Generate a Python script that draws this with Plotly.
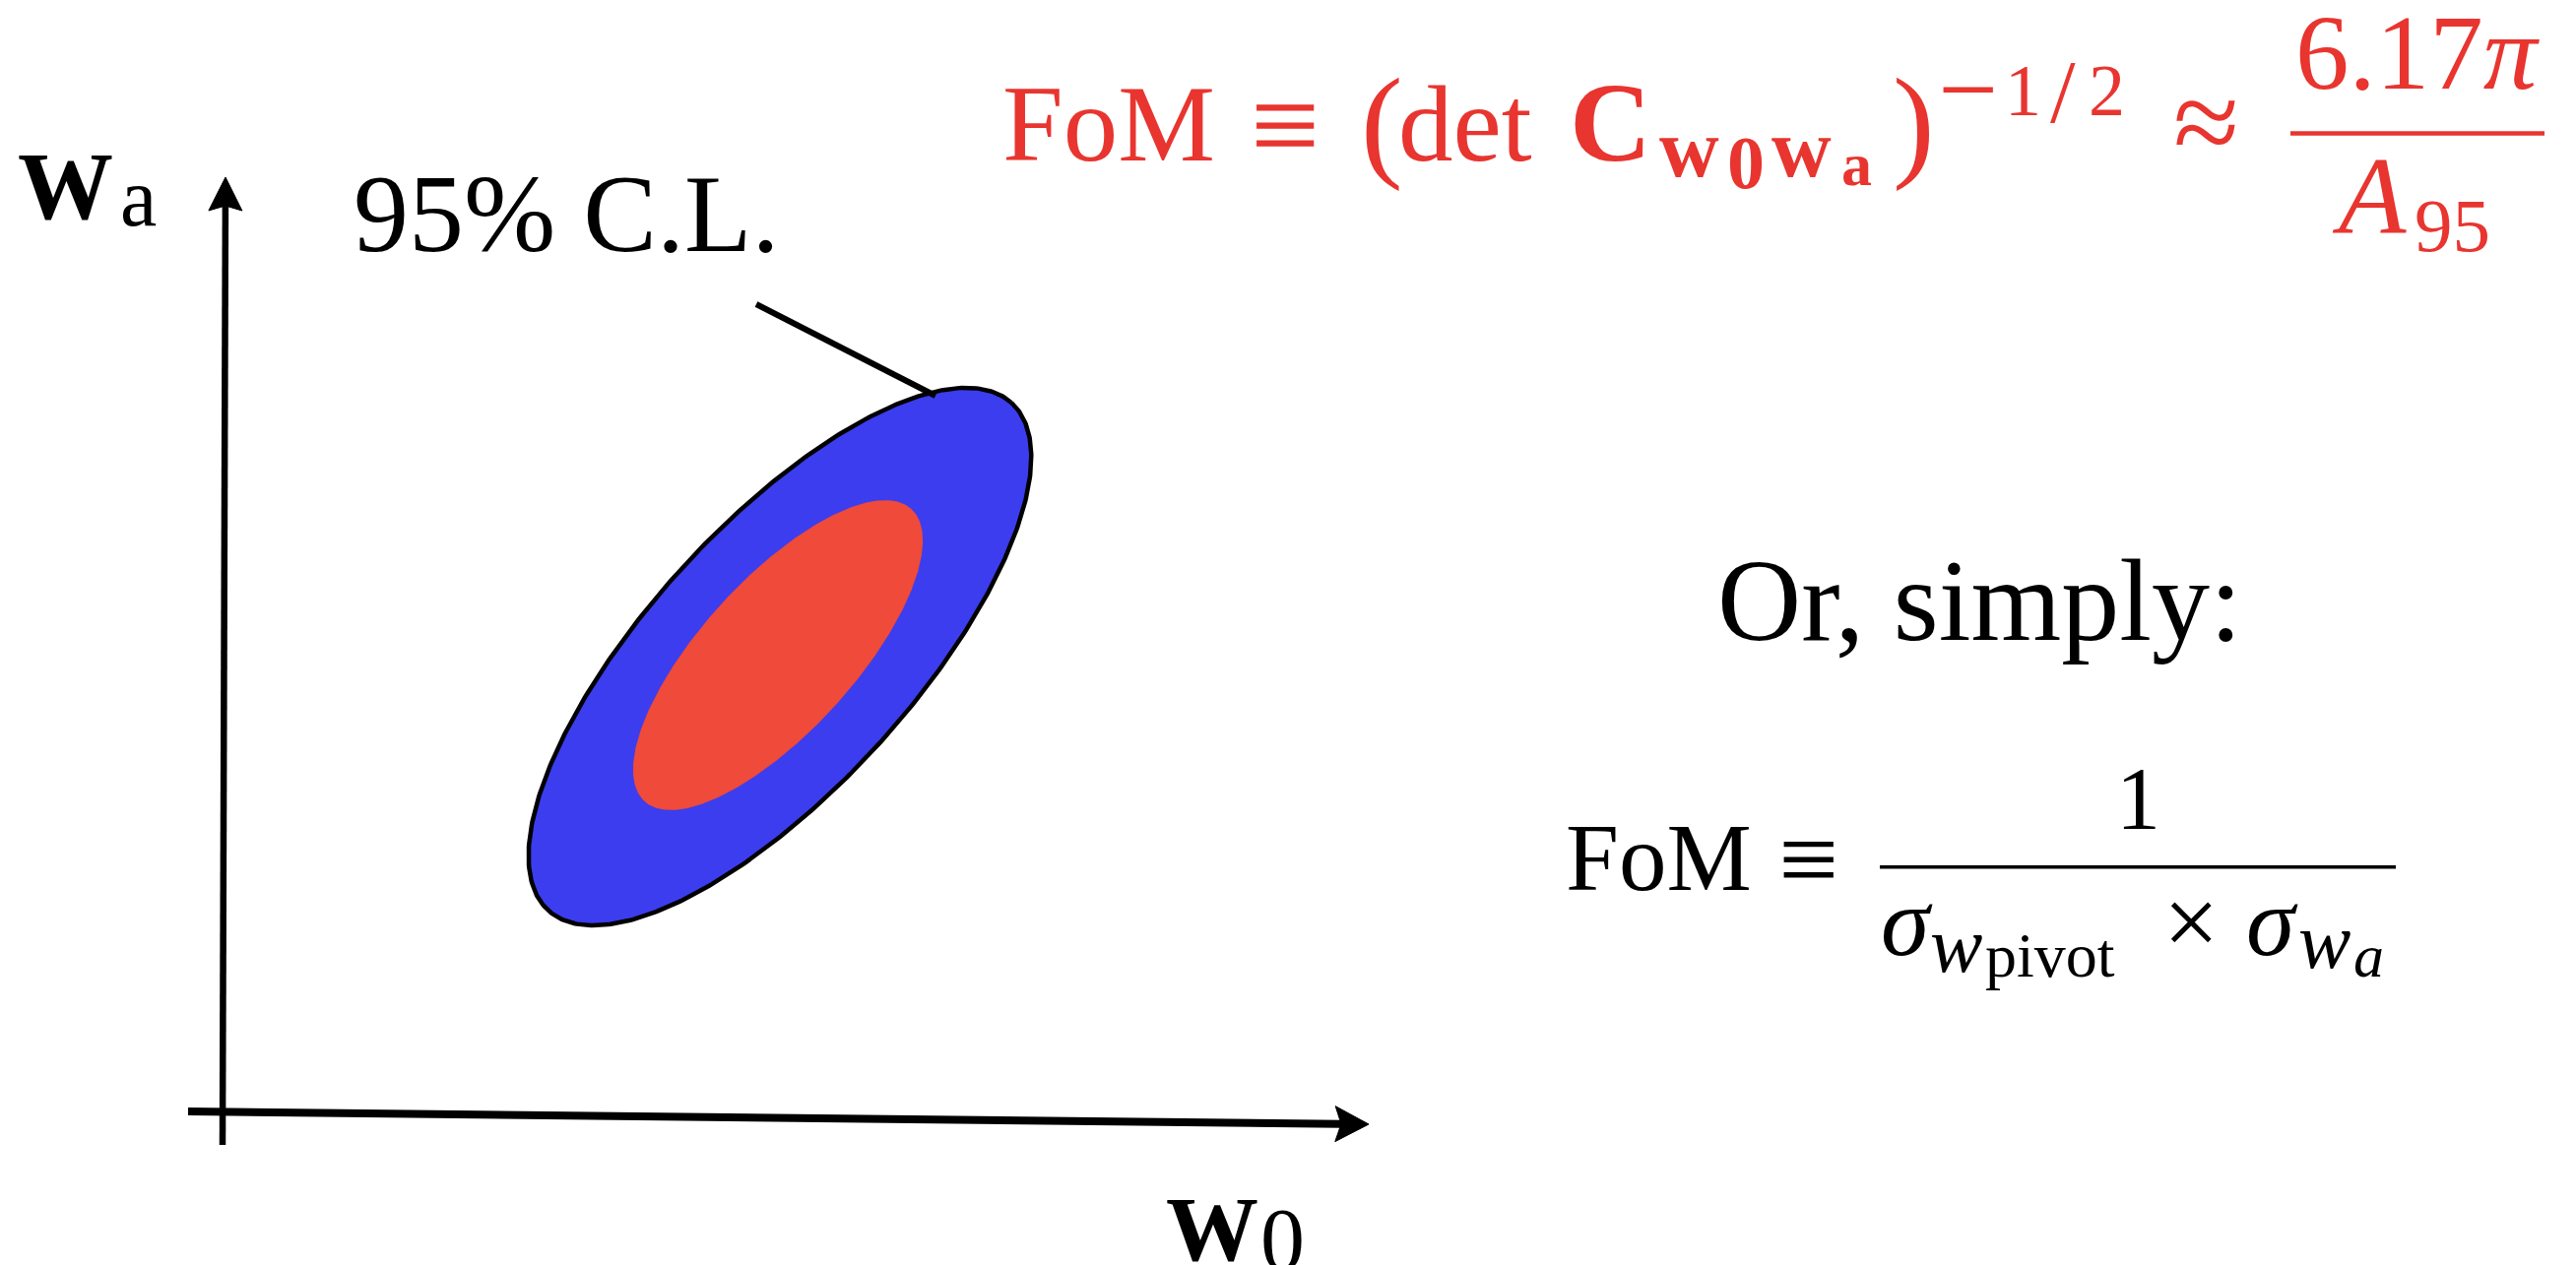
import numpy as np
import plotly.graph_objects as go

W, H = 2616, 1285
SERIF = "Liberation Serif, Times New Roman, serif"
RED = "#E8352F"
BLACK = "#000000"

# ---------------- data (sketch pixel frame, origin top-left) ----------------
# confidence ellipses
ell_labels = ["95% C.L.", "68% C.L."]
ell_cx = [792, 790]
ell_cy = [667, 665.5]
ell_a = [349, 201]
ell_b = [134, 77.5]
ell_angle = [47.6, 47.6]
ell_fill = ["#3C3DEE", "#EF4A3A"]
ell_edge_w = [4.5, 0]

# axis arrows (start -> tip)
axis_names = ["w0", "wa"]
axis_x0 = [191, 226]
axis_y0 = [1129, 1163]
axis_x1 = [1390, 229]
axis_y1 = [1142, 180]
axis_w = [8, 6.5]
head_len = [34, 34]
head_half = [18, 17]
head_notch = [6, 5]

# leader line from label to ellipse
leader_x = [768, 950]
leader_y = [309, 402]

# fraction bars
bar_x0 = [2326, 1909]
bar_x1 = [2584, 2433]
bar_y = [135.5, 880.7]
bar_w = [4.5, 3.5]
bar_col = [RED, BLACK]

# text pieces: string, x, baseline, size, colour, anchor
txt_str = [
    "<b>W</b>", "a",                      # y-axis label
    "<b>W</b>", "0",                      # x-axis label
    "95% C.L.",
    # red headline formula
    "FoM", "≡", "(", "det", "<b>C</b>", "<b>w</b>", "<b>0</b>", "<b>w</b>", "<b>a</b>", ")",
    "−", "1", "/", "2", "≈",
    "6.17<i>π</i>", "<i>A</i>", "95",
    # right-hand text
    "Or, simply:",
    "FoM", "≡", "1",
    "<i>σ</i>", "<i>w</i>", "pivot", "×", "<i>σ</i>", "<i>w</i>", "<i>a</i>",
]
txt_x = [
    18, 122,
    1184, 1280,
    359,
    1018, 1305, 1382, 1420, 1594, 1685, 1754, 1799, 1870, 1922,
    1998, 2036, 2095, 2121, 2240,
    2455, 2368, 2452,
    2010,
    1590, 1836, 2171,
    1910, 1960, 2016, 2225, 2281, 2334, 2390,
]
txt_base = [
    222, 229,
    1280, 1290,
    255,
    163, 168.7, 167, 163, 163, 179, 190.7, 179, 188, 167,
    127, 117, 124, 117, 165,
    90.7, 237, 255,
    650,
    904, 909, 841.7,
    970, 987, 992, 970, 970, 983, 992,
]
txt_size = [
    97, 84,
    94, 90,
    112,
    111, 125, 128, 111, 115, 84, 76, 84, 62, 128,
    108, 74, 92, 74, 122,
    109, 112, 77,
    118,
    97, 108, 90,
    100, 80, 64, 100, 100, 80, 62,
]
txt_col = (["black"] * 5 + ["red"] * 18 + ["black"] * 11)
txt_anchor = [
    "left", "left",
    "left", "left",
    "left",
    "left", "center", "left", "left", "left", "left", "left", "left", "left", "left",
    "center", "left", "center", "left", "center",
    "center", "left", "left",
    "center",
    "left", "center", "center",
    "left", "left", "left", "center", "left", "left", "left",
]

fig = go.Figure()

# ellipses
t = np.linspace(0, 2 * np.pi, 500)
for i in range(len(ell_labels)):
    phi = np.deg2rad(ell_angle[i])
    ex = ell_cx[i] + ell_a[i] * np.cos(t) * np.cos(phi) - ell_b[i] * np.sin(t) * np.sin(phi)
    ey = ell_cy[i] - (ell_a[i] * np.cos(t) * np.sin(phi) + ell_b[i] * np.sin(t) * np.cos(phi))
    fig.add_trace(go.Scatter(
        x=ex, y=ey, mode="lines", fill="toself", fillcolor=ell_fill[i],
        line=dict(color=BLACK if ell_edge_w[i] > 0 else ell_fill[i], width=max(ell_edge_w[i], 0.1)),
        hoverinfo="skip", showlegend=False, name=ell_labels[i]))

# axes with notched arrowheads
for i in range(len(axis_names)):
    p0 = np.array([axis_x0[i], axis_y0[i]], float)
    p1 = np.array([axis_x1[i], axis_y1[i]], float)
    u = (p1 - p0) / np.linalg.norm(p1 - p0)
    n = np.array([-u[1], u[0]])
    L, hw, nt = head_len[i], head_half[i], head_notch[i]
    base = p1 - (L - nt) * u
    fig.add_trace(go.Scatter(x=[p0[0], base[0]], y=[p0[1], base[1]], mode="lines",
                             line=dict(color=BLACK, width=axis_w[i]),
                             hoverinfo="skip", showlegend=False, name=axis_names[i]))
    pts = [p1, p1 - L * u + hw * n, base, p1 - L * u - hw * n, p1]
    fig.add_trace(go.Scatter(x=[p[0] for p in pts], y=[p[1] for p in pts], mode="lines",
                             fill="toself", fillcolor=BLACK, line=dict(color=BLACK, width=1),
                             hoverinfo="skip", showlegend=False))

# leader line
fig.add_trace(go.Scatter(x=leader_x, y=leader_y, mode="lines", line=dict(color=BLACK, width=6),
                         hoverinfo="skip", showlegend=False))

# fraction bars
for i in range(len(bar_x0)):
    fig.add_trace(go.Scatter(x=[bar_x0[i], bar_x1[i]], y=[bar_y[i], bar_y[i]], mode="lines",
                             line=dict(color=bar_col[i], width=bar_w[i]),
                             hoverinfo="skip", showlegend=False))

# text
for s, x, b, sz, c, a in zip(txt_str, txt_x, txt_base, txt_size, txt_col, txt_anchor):
    fig.add_annotation(x=x, y=b - 0.3375 * sz, text=s, showarrow=False,
                       xanchor=a, yanchor="middle", xref="x", yref="y",
                       borderpad=0, borderwidth=0,
                       font=dict(family=SERIF, size=sz, color=RED if c == "red" else BLACK))

fig.update_layout(
    width=W, height=H, margin=dict(l=0, r=0, t=0, b=0),
    paper_bgcolor="white", plot_bgcolor="white",
    xaxis=dict(range=[0, W], visible=False, fixedrange=True),
    yaxis=dict(range=[H, 0], visible=False, fixedrange=True),
    showlegend=False,
)
fig.write_html("out.html", config={"displayModeBar": False})
